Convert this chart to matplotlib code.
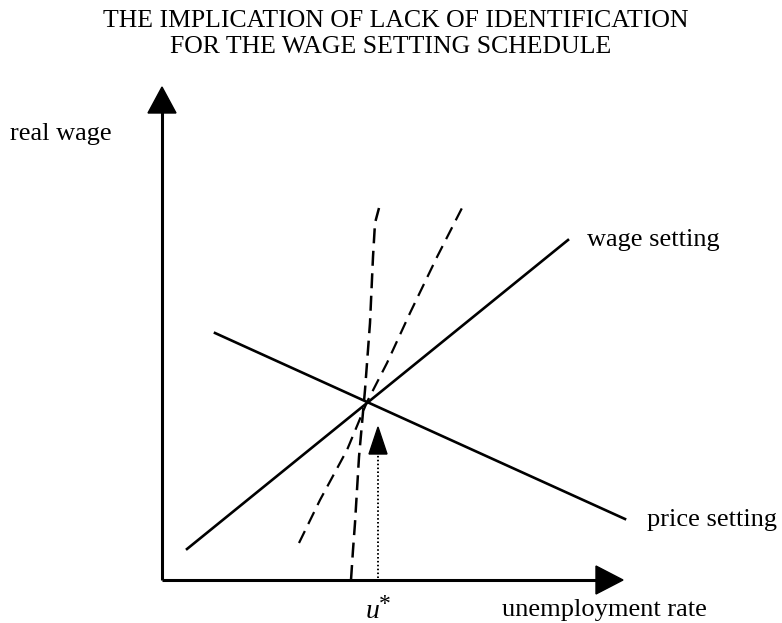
import matplotlib
matplotlib.use("Agg")
import matplotlib.pyplot as plt
from matplotlib.patches import Polygon

# Alle coordinaten in beeldpixels (x naar rechts, y naar beneden)
title_lines = ["THE IMPLICATION OF LACK OF IDENTIFICATION",
               "FOR THE WAGE SETTING SCHEDULE"]

origin = (162, 580)
y_axis_top = 87
x_axis_end = 623

wage_x = [187, 568]
wage_y = [549, 240]

price_x = [215, 625]
price_y = [333, 519]

# steile gestippelde curve
curve_a_x = [351, 353, 355, 359, 365, 370, 373, 375, 379]
curve_a_y = [580, 550, 523, 457, 390, 323, 257, 223, 208]

# minder steile gestippelde curve
curve_b_x = [299, 320, 347, 367, 387, 410, 437, 462]
curve_b_y = [543, 500, 450, 402, 363, 313, 257, 208]

u_star_x = 378
u_star_arrow_tip = 427

labels = {
    "real wage": (10, 134),
    "wage setting": (587, 240),
    "price setting": (647, 520),
    "unemployment rate": (502, 610),
}

fig = plt.figure(figsize=(7.82, 6.23), dpi=100)
ax = fig.add_axes([0, 0, 1, 1])
ax.set_xlim(0, 782)
ax.set_ylim(623, 0)
ax.axis("off")

serif = "Liberation Serif"

# titel
ax.text(396, 21, title_lines[0], ha="center", va="center", fontsize=18.5, family=serif)
ax.text(391, 47, title_lines[1], ha="center", va="center", fontsize=18.5, family=serif)

# assen met pijlpunten
ax.plot([origin[0], origin[0]], [origin[1], 110], color="black", lw=2.2, solid_capstyle="butt")
ax.plot([origin[0], 600], [origin[1], origin[1]], color="black", lw=2.2, solid_capstyle="butt")
ax.add_patch(Polygon([[origin[0] - 14, 113], [origin[0] + 14, 113], [origin[0], y_axis_top]],
                     closed=True, color="black"))
ax.add_patch(Polygon([[596, origin[1] - 14], [596, origin[1] + 14], [x_axis_end, origin[1]]],
                     closed=True, color="black"))

# loon- en prijsvorming
ax.plot(wage_x, wage_y, color="black", lw=1.9)
ax.plot(price_x, price_y, color="black", lw=1.9)

# alternatieve loonvormingscurves
ax.plot(curve_a_x, curve_a_y, color="black", lw=1.8, dashes=(6, 3))
ax.plot(curve_b_x, curve_b_y, color="black", lw=1.6, dashes=(6, 3.5))

# gestippelde pijl bij u*
ax.plot([u_star_x, u_star_x], [origin[1] - 2, 453], color="black", lw=1.4, dashes=(0.8, 1.2))
ax.add_patch(Polygon([[u_star_x - 9, 454], [u_star_x + 9, 454], [u_star_x, u_star_arrow_tip]],
                     closed=True, color="black"))

for text, (x, y) in labels.items():
    ax.text(x, y, text, ha="left", va="center", fontsize=19, family=serif)

ax.text(u_star_x + 1, 612, "u", ha="right", va="center", fontsize=20, family=serif, style="italic")
ax.text(u_star_x + 1, 605, "*", ha="left", va="center", fontsize=17, family=serif)

fig.savefig("out.png", dpi=100)
